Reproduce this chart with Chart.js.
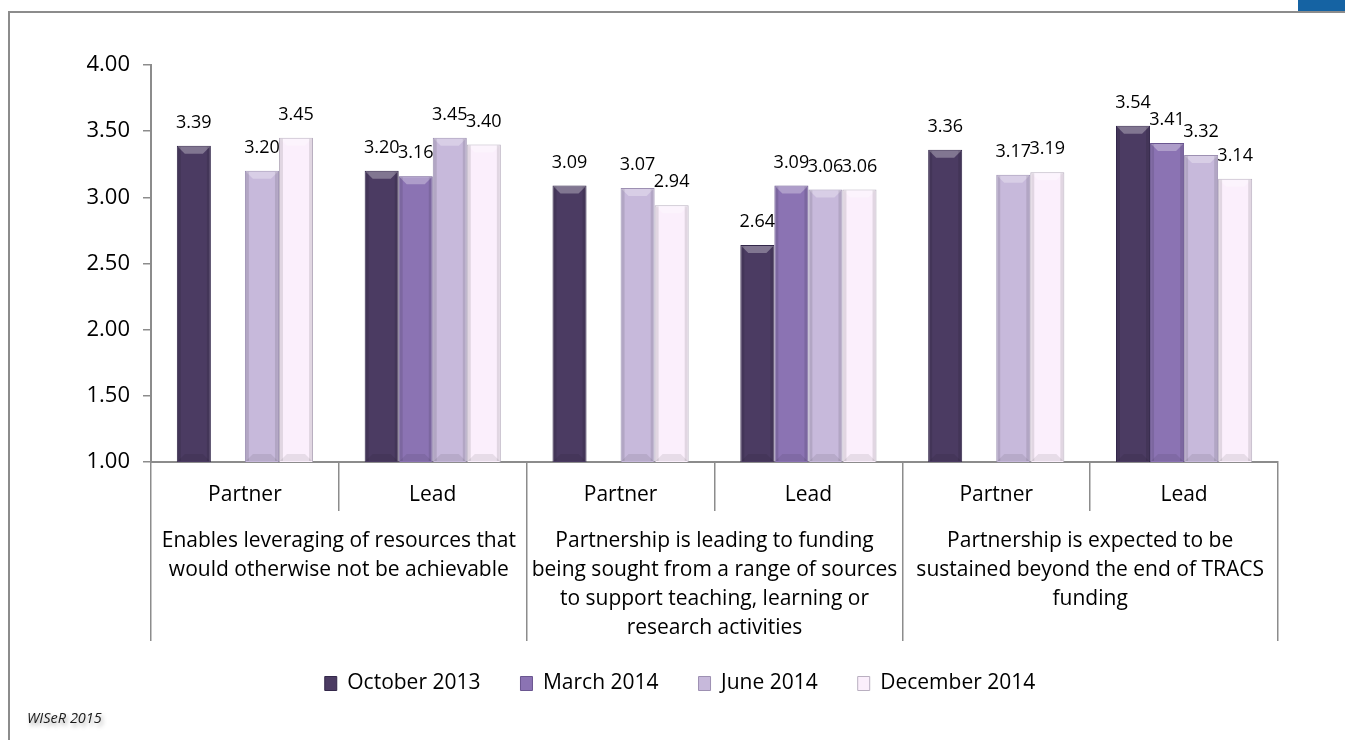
<!DOCTYPE html>
<html>
<head>
<meta charset="utf-8">
<script src="https://cdn.jsdelivr.net/npm/chart.js@4"></script>
<style>
  html, body { margin: 0; padding: 0; background: #fff; }
  #wrap { position: relative; width: 1345px; height: 740px; overflow: hidden; }
  #frame { position: absolute; left: 8px; top: 11px; right: -4px; bottom: -4px;
           border-left: 2px solid #8c8c8c; border-top: 2px solid #8c8c8c; }
  #tab { position: absolute; right: 0; top: 0; width: 47px; height: 11px; background: #1563a3; }
  #credit { position: absolute; left: 27px; top: 708px; font: italic 14.5px "Open Sans", sans-serif;
            color: #1a1a1a; text-shadow: 2px 3px 4px rgba(0,0,0,0.35); }
  canvas { position: absolute; left: 0; top: 0; }
</style>
</head>
<body>
<div id="wrap">
  <div id="frame"></div>
  <div id="tab"></div>
  <canvas id="surveyChart" width="1345" height="740"></canvas>
  <div id="credit">WISeR 2015</div>
</div>
<script>
// category labels (two levels)
const roles = ['Partner', 'Lead', 'Partner', 'Lead', 'Partner', 'Lead'];
const statements = [
  ['Enables leveraging of resources that', 'would otherwise not be achievable'],
  ['Partnership is leading to funding', 'being sought from a range of sources', 'to support teaching, learning or', 'research activities'],
  ['Partnership is expected to be', 'sustained beyond the end of TRACS', 'funding']
];

// mean scores per survey round
const oct2013 = [3.39, 3.20, 3.09, 2.64, 3.36, 3.54];
const mar2014 = [null, 3.16, null, 3.09, null, 3.41];
const jun2014 = [3.20, 3.45, 3.07, 3.06, 3.17, 3.32];
const dec2014 = [3.45, 3.40, 2.94, 3.06, 3.19, 3.14];

const yTicks = [1.0, 1.5, 2.0, 2.5, 3.0, 3.5, 4.0];

const FONT = '"Open Sans", sans-serif';
const axisGrey = '#8c8c8c';

// value labels above the bars
const valueLabels = {
  id: 'valueLabels',
  afterDatasetsDraw(chart) {
    const ctx = chart.ctx;
    ctx.save();
    ctx.font = '18px ' + FONT;
    ctx.fillStyle = '#000';
    ctx.textAlign = 'center';
    ctx.textBaseline = 'middle';
    chart.data.datasets.forEach((ds, i) => {
      const meta = chart.getDatasetMeta(i);
      meta.data.forEach((bar, j) => {
        const v = ds.data[j];
        if (v === null || v === undefined) return;
        ctx.fillText(v.toFixed(2), bar.x, bar.y - 23);
      });
    });
    ctx.restore();
  }
};

// bevel look on each bar
const bevel = {
  id: 'bevel',
  afterDatasetsDraw(chart) {
    const ctx = chart.ctx;
    const bottom = chart.chartArea.bottom;
    ctx.save();
    chart.data.datasets.forEach((ds, i) => {
      chart.getDatasetMeta(i).data.forEach((bar, j) => {
        if (ds.data[j] === null) return;
        const l = bar.x - bar.width / 2, r = bar.x + bar.width / 2;
        const t = bar.y, b = Math.min(bar.base, bottom), e = 8;
        ctx.fillStyle = 'rgba(255,255,255,0.30)';
        ctx.beginPath();
        ctx.moveTo(l + 1, t + 1); ctx.lineTo(r - 1, t + 1); ctx.lineTo(r - e, t + e); ctx.lineTo(l + e, t + e);
        ctx.closePath(); ctx.fill();
        ctx.fillStyle = 'rgba(0,0,0,0.10)';
        ctx.fillRect(l + 1, t + 1, 3, b - t - 2);
        ctx.fillRect(r - 4, t + 1, 3, b - t - 2);
        ctx.fillStyle = 'rgba(0,0,0,0.08)';
        ctx.beginPath();
        ctx.moveTo(l + 1, b - 1); ctx.lineTo(r - 1, b - 1); ctx.lineTo(r - e, b - e); ctx.lineTo(l + e, b - e);
        ctx.closePath(); ctx.fill();
      });
    });
    ctx.restore();
  }
};

// pull the legend row up a little, closer to the category labels
const legendNudge = {
  id: 'legendNudge',
  afterLayout(chart) {
    if (!chart.legend) return;
    chart.legend.top -= 8;
    chart.legend.bottom -= 8;
  }
};

function series(label, data, fill, edge) {
  return {
    label: label,
    data: data,
    backgroundColor: fill,
    borderColor: edge,
    borderWidth: 1,
    categoryPercentage: 0.725,
    barPercentage: 1.0,
    xAxisID: 'x'
  };
}

const ctx = document.getElementById('surveyChart').getContext('2d');
new Chart(ctx, {
  type: 'bar',
  data: {
    labels: roles,
    datasets: [
      series('October 2013', oct2013, '#4b3b62', '#33274a'),
      series('March 2014', mar2014, '#8b73b3', '#6a5690'),
      series('June 2014', jun2014, '#c7b9db', '#9d90b2'),
      series('December 2014', dec2014, '#fbeffc', '#b9afc0')
    ]
  },
  options: {
    responsive: false,
    animation: false,
    layout: { padding: { left: 82, top: 65, right: 67, bottom: 28 } },
    plugins: {
      legend: {
        position: 'bottom',
        labels: {
          color: '#000',
          font: { family: FONT, size: 21 },
          boxWidth: 12,
          boxHeight: 14,
          padding: 40
        }
      },
      tooltip: { enabled: false }
    },
    scales: {
      y: {
        min: 1,
        max: 4,
        afterBuildTicks(scale) { scale.ticks = yTicks.map(v => ({ value: v })); },
        afterFit(scale) { scale.width = 69; },
        ticks: { color: '#000', font: { family: FONT, size: 22 }, padding: 13,
                 callback: v => Number(v).toFixed(2) },
        grid: { drawOnChartArea: false, tickLength: 8, color: axisGrey, lineWidth: 1.5 },
        border: { color: axisGrey, width: 2 }
      },
      x: {
        type: 'category',
        weight: 0,
        offset: true,
        afterFit(scale) { scale.height = 49; },
        ticks: { color: '#000', font: { family: FONT, size: 21 }, padding: -29, maxRotation: 0, autoSkip: false },
        grid: { offset: true, drawOnChartArea: false, tickLength: 49, color: axisGrey, lineWidth: 1.5 },
        border: { color: axisGrey, width: 2 }
      },
      x2: {
        type: 'category',
        position: 'bottom',
        weight: 1,
        offset: true,
        labels: statements,
        afterFit(scale) { scale.height = 130; },
        ticks: { color: '#000', font: { family: FONT, size: 21, lineHeight: 1.38 }, padding: -114.5,
                 maxRotation: 0, autoSkip: false },
        grid: { offset: true, drawOnChartArea: false, tickLength: 130, color: axisGrey, lineWidth: 1.5 },
        border: { display: false }
      }
    }
  },
  plugins: [bevel, valueLabels, legendNudge]
});
</script>
</body>
</html>
